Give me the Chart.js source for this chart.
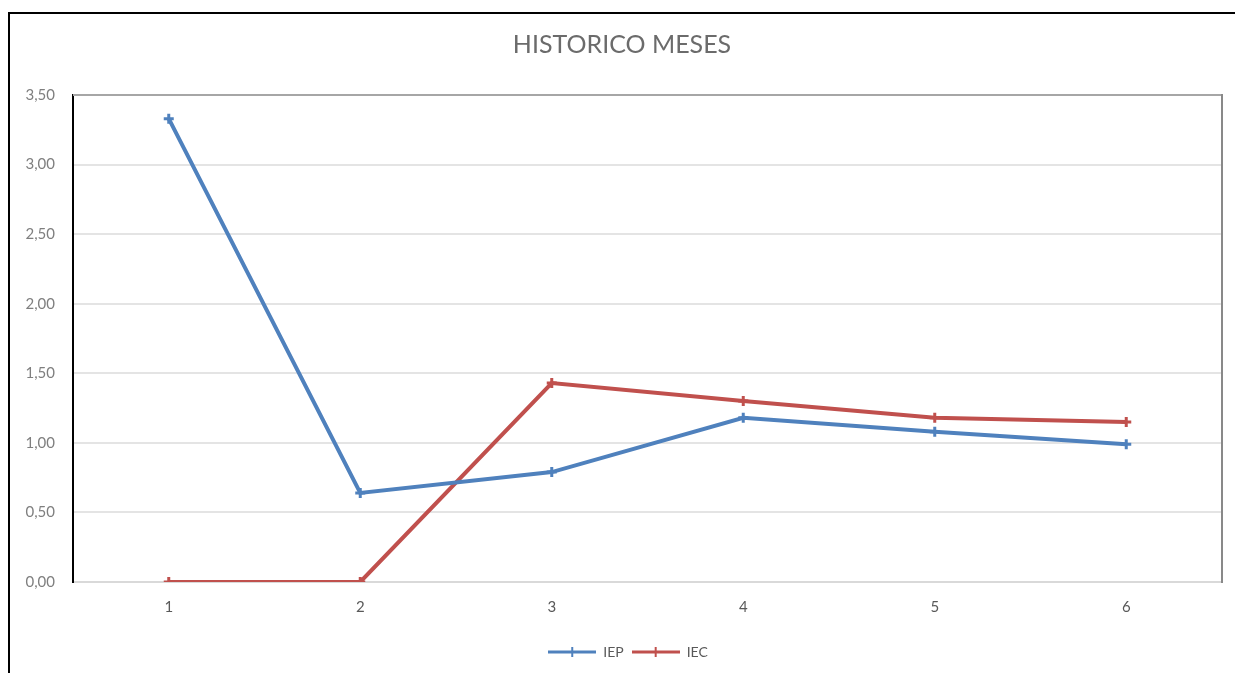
<!DOCTYPE html>
<html>
<head>
<meta charset="utf-8">
<title>HISTORICO MESES</title>
<script src="https://cdn.jsdelivr.net/npm/chart.js@4"></script>
<style>
  html, body { margin: 0; padding: 0; background: #ffffff; overflow: hidden; }
  #wrap { position: relative; width: 1235px; height: 673px; }
  #frame {
    position: absolute; left: 8px; top: 12px; width: 1300px; height: 700px;
    border-top: 2px solid #000; border-left: 2px solid #000; pointer-events: none;
  }
  canvas { position: absolute; left: 0; top: 0; }
</style>
</head>
<body>
<div id="wrap">
  <canvas id="chart" width="1235" height="673"></canvas>
  <div id="frame"></div>
</div>
<script>
// Months on the x axis and the two monthly indicators
const meses = ['1', '2', '3', '4', '5', '6'];
const iep = [3.33, 0.64, 0.79, 1.18, 1.08, 0.99];
const iec = [0.00, 0.00, 1.43, 1.30, 1.18, 1.15];
const yTicks = [0, 0.5, 1, 1.5, 2, 2.5, 3, 3.5];

const BLUE = '#4f81bd';
const RED = '#c0504d';
const FONT = 'Lato, "Open Sans", "Liberation Sans", sans-serif';

// Legend key: a short line segment with the series marker in the middle
function legendKey(color) {
  const c = document.createElement('canvas');
  c.width = 48;
  c.height = 12;
  const g = c.getContext('2d');
  g.strokeStyle = color;
  g.lineWidth = 3;
  g.beginPath();
  g.moveTo(0, 6);
  g.lineTo(48, 6);
  g.stroke();
  g.lineWidth = 2;
  g.beginPath();
  g.moveTo(24, 1);
  g.lineTo(24, 11);
  g.stroke();
  return c;
}

// The whole chart frame is wider than the visible plot, so the title and
// legend sit a little right of the plot-area centre
const boxShift = {
  id: 'boxShift',
  afterLayout(chart) {
    const shift = (box, dx) => { box.left += dx; box.right += dx; };
    shift(chart.titleBlock, 11);
    shift(chart.legend, 17);
  }
};

// Outline of the plot area: grey top edge and darker right edge
const plotFrame = {
  id: 'plotFrame',
  afterDatasetsDraw(chart) {
    const { ctx, chartArea: a } = chart;
    ctx.save();
    ctx.lineWidth = 2;
    ctx.strokeStyle = '#a6a6a6';
    ctx.beginPath();
    ctx.moveTo(a.left, a.top);
    ctx.lineTo(a.right, a.top);
    ctx.stroke();
    ctx.strokeStyle = '#898989';
    ctx.beginPath();
    ctx.moveTo(a.right, a.top - 1);
    ctx.lineTo(a.right, a.bottom + 1);
    ctx.stroke();
    ctx.restore();
  }
};

new Chart(document.getElementById('chart'), {
  type: 'line',
  data: {
    labels: meses,
    datasets: [
      {
        label: 'IEP',
        data: iep,
        borderColor: BLUE,
        backgroundColor: BLUE,
        borderWidth: 4,
        pointStyle: 'cross',
        pointRadius: 5,
        pointBorderWidth: 3,
        tension: 0
      },
      {
        label: 'IEC',
        data: iec,
        borderColor: RED,
        backgroundColor: RED,
        borderWidth: 4,
        pointStyle: 'cross',
        pointRadius: 5,
        pointBorderWidth: 3,
        tension: 0
      }
    ]
  },
  options: {
    responsive: false,
    animation: false,
    layout: { padding: { left: 0, right: 13, top: 0, bottom: 4 } },
    plugins: {
      title: {
        display: true,
        text: 'HISTORICO MESES',
        color: '#6b6b6b',
        font: { family: FONT, size: 25, weight: 'normal' },
        padding: { top: 30, bottom: 35 }
      },
      legend: {
        position: 'bottom',
        labels: {
          color: '#595959',
          font: { family: FONT, size: 14 },
          usePointStyle: true,
          pointStyleWidth: 48,
          boxHeight: 4,
          padding: 8,
          generateLabels(chart) {
            return chart.data.datasets.map((ds, i) => ({
              text: ds.label,
              datasetIndex: i,
              fontColor: '#595959',
              pointStyle: legendKey(ds.borderColor),
              fillStyle: ds.borderColor,
              strokeStyle: ds.borderColor,
              lineWidth: 0,
              hidden: false
            }));
          }
        }
      },
      tooltip: { enabled: false }
    },
    scales: {
      x: {
        offset: true,
        grid: { display: false, drawTicks: false },
        border: { display: true, color: '#d9d9d9', width: 2 },
        ticks: { color: '#595959', font: { family: FONT, size: 15 }, padding: 16 },
        afterFit(s) { s.height = 55; }
      },
      y: {
        min: 0,
        max: 3.5,
        afterBuildTicks(s) { s.ticks = yTicks.map(v => ({ value: v })); },
        grid: {
          drawTicks: false,
          lineWidth: 2,
          color: ctx => (ctx.tick && ctx.tick.value === 3.5) ? '#a6a6a6' : '#e4e4e4'
        },
        border: { display: true, color: '#000000', width: 2 },
        ticks: {
          color: '#7f7f7f',
          font: { family: FONT, size: 15 },
          padding: 18,
          callback: v => v.toFixed(2).replace('.', ',')
        },
        afterFit(s) { s.width = 73; }
      }
    }
  },
  plugins: [boxShift, plotFrame]
});
</script>
</body>
</html>
